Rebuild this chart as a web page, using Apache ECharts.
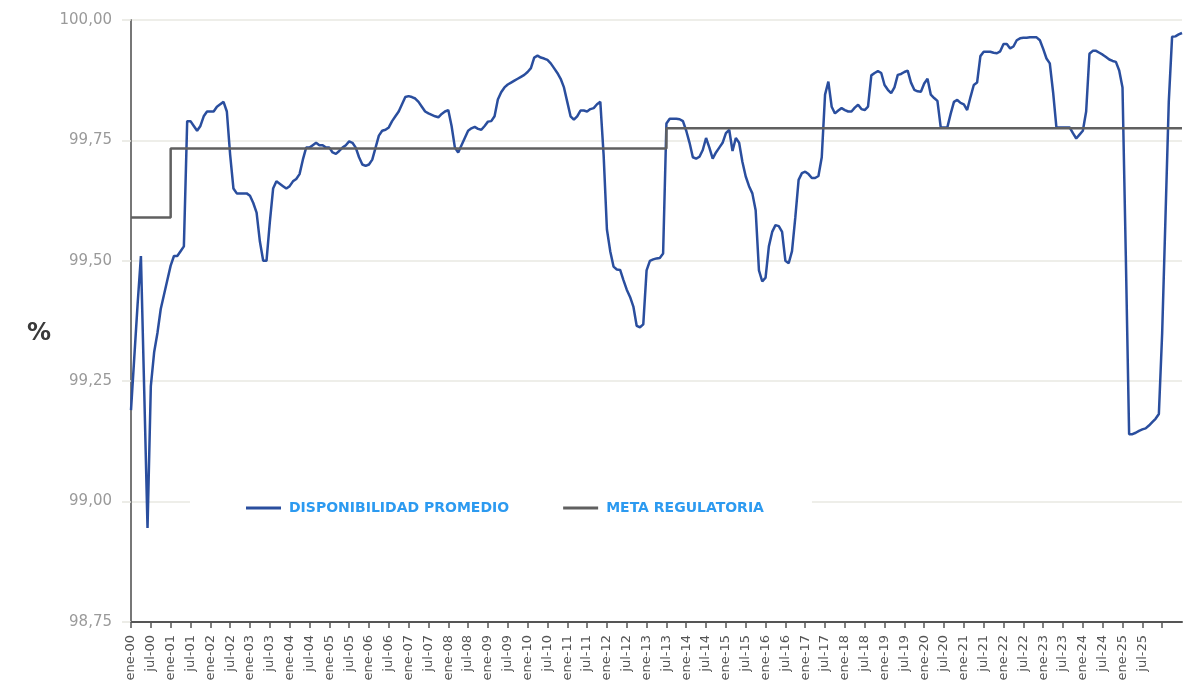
<!DOCTYPE html>
<html>
<head>
<meta charset="utf-8">
<title>Disponibilidad promedio</title>
<script src="https://cdn.jsdelivr.net/npm/echarts@6/dist/echarts.min.js"></script>
<style>
    html, body { margin: 0; padding: 0; background: #fff; }
    #chart { width: 1185px; height: 698px; }
</style>
</head>
<body>
<div id="chart"></div>
<script>
'use strict';

// meses en español, eje x mensual desde ene-00
var meses = ['ene', 'feb', 'mar', 'abr', 'may', 'jun', 'jul', 'ago', 'sep', 'oct', 'nov', 'dic'];
var anioInicio = 2000;

// disponibilidad promedio (%), un valor por mes, una fila por año
var disponibilidad = [
    99.19, 99.30, 99.41, 99.51, 99.23, 98.945, 99.24, 99.31, 99.35, 99.40, 99.43, 99.46,        // 2000
    99.49, 99.51, 99.51, 99.52, 99.53, 99.79, 99.79, 99.78, 99.77, 99.78, 99.80, 99.81,         // 2001
    99.81, 99.81, 99.82, 99.825, 99.83, 99.81, 99.72, 99.65, 99.64, 99.64, 99.64, 99.64,        // 2002
    99.635, 99.62, 99.60, 99.54, 99.50, 99.50, 99.58, 99.65, 99.665, 99.66, 99.655, 99.65,     // 2003
    99.655, 99.665, 99.67, 99.68, 99.71, 99.735, 99.735, 99.74, 99.745, 99.74, 99.74, 99.735,  // 2004
    99.735, 99.725, 99.722, 99.728, 99.735, 99.74, 99.748, 99.745, 99.735, 99.715, 99.70, 99.697, // 2005
    99.70, 99.71, 99.735, 99.76, 99.77, 99.772, 99.777, 99.79, 99.80, 99.81, 99.825, 99.84,    // 2006
    99.842, 99.84, 99.837, 99.83, 99.82, 99.81, 99.806, 99.803, 99.80, 99.798, 99.805, 99.81,  // 2007
    99.813, 99.78, 99.735, 99.725, 99.74, 99.755, 99.77, 99.775, 99.778, 99.774, 99.772, 99.78, // 2008
    99.789, 99.79, 99.80, 99.835, 99.85, 99.86, 99.866, 99.87, 99.874, 99.878, 99.882, 99.886, // 2009
    99.892, 99.90, 99.922, 99.926, 99.922, 99.92, 99.917, 99.91, 99.90, 99.89, 99.878, 99.86,  // 2010
    99.83, 99.80, 99.793, 99.80, 99.812, 99.812, 99.81, 99.815, 99.817, 99.825, 99.83, 99.72,  // 2011
    99.565, 99.52, 99.488, 99.482, 99.481, 99.46, 99.44, 99.425, 99.405, 99.365, 99.362, 99.368, // 2012
    99.48, 99.50, 99.503, 99.505, 99.506, 99.515, 99.785, 99.795, 99.795, 99.795, 99.794, 99.79, // 2013
    99.77, 99.745, 99.715, 99.712, 99.716, 99.73, 99.755, 99.735, 99.712, 99.725, 99.735, 99.745, // 2014
    99.765, 99.772, 99.728, 99.755, 99.745, 99.705, 99.675, 99.655, 99.64, 99.605, 99.48, 99.457, // 2015
    99.465, 99.53, 99.56, 99.574, 99.572, 99.56, 99.50, 99.495, 99.52, 99.59, 99.668, 99.682,  // 2016
    99.685, 99.68, 99.672, 99.672, 99.676, 99.715, 99.845, 99.872, 99.82, 99.806, 99.812, 99.817, // 2017
    99.813, 99.81, 99.81, 99.818, 99.824, 99.815, 99.813, 99.82, 99.885, 99.89, 99.894, 99.89, // 2018
    99.865, 99.855, 99.848, 99.86, 99.886, 99.888, 99.892, 99.895, 99.87, 99.855, 99.852, 99.851, // 2019
    99.868, 99.878, 99.845, 99.838, 99.832, 99.777, 99.777, 99.777, 99.805, 99.83, 99.834, 99.828, // 2020
    99.825, 99.813, 99.84, 99.865, 99.87, 99.925, 99.934, 99.934, 99.934, 99.932, 99.931, 99.935, // 2021
    99.95, 99.95, 99.941, 99.945, 99.958, 99.962, 99.963, 99.963, 99.964, 99.964, 99.964, 99.958, // 2022
    99.94, 99.92, 99.91, 99.85, 99.777, 99.777, 99.777, 99.777, 99.777, 99.765, 99.754, 99.762, // 2023
    99.77, 99.81, 99.93, 99.936, 99.936, 99.932, 99.928, 99.923, 99.918, 99.915, 99.913, 99.895, // 2024
    99.86, 99.51, 99.14, 99.14, 99.143, 99.147, 99.15, 99.152, 99.158, 99.165, 99.172, 99.182,  // 2025
    99.35, 99.59, 99.83, 99.965, 99.966, 99.97, 99.973                                          // 2026
];

// meta regulatoria: valor vigente desde cada mes
var metaDesde = ['ene-00', 'ene-01', 'jul-13'];
var metaValor = [99.59, 99.733, 99.775];

// etiquetas del eje y
var ejeYMin = 98.75;
var ejeYMax = 100;
var ejeYPaso = 0.25;

var categorias = [];
for (var i = 0; i < disponibilidad.length; i++) {
    var anio = anioInicio + Math.floor(i / 12);
    categorias.push(meses[i % 12] + '-' + String(anio).slice(2));
}

var meta = [];
var tramo = 0;
for (var j = 0; j < categorias.length; j++) {
    if (tramo + 1 < metaDesde.length && categorias[j] === metaDesde[tramo + 1]) {
        tramo++;
    }
    meta.push(metaValor[tramo]);
}

// ultimo mes con etiqueta / con marca en el eje x
var ultimaEtiqueta = categorias.indexOf('jul-25');
var ultimaMarca = categorias.indexOf('ene-26');

var myChart = echarts.init(document.getElementById('chart'));

var option = {
    animation: false,
    backgroundColor: '#ffffff',
    grid: {
        left: 131,
        right: 3,
        top: 20,
        bottom: 76
    },
    graphic: [{
        type: 'text',
        left: 27,
        top: 322,
        style: {
            text: '%',
            font: 'bold 24px "DejaVu Sans"',
            fill: '#3a3a3a'
        }
    }],
    legend: {
        left: 190,
        top: 493,
        padding: [8, 48, 8, 56],
        backgroundColor: '#ffffff',
        itemWidth: 35,
        itemHeight: 3,
        itemGap: 54,
        icon: 'rect',
        textStyle: {
            color: '#2c9af0',
            fontWeight: 'bold',
            fontSize: 14,
            fontFamily: 'DejaVu Sans',
            padding: [0, 0, 0, 3]
        },
        data: ['DISPONIBILIDAD PROMEDIO', 'META REGULATORIA']
    },
    xAxis: {
        type: 'category',
        data: categorias,
        boundaryGap: false,
        axisLine: {
            lineStyle: { color: '#555', width: 2 }
        },
        axisTick: {
            interval: function(idx) {
                return idx % 6 === 0 && idx <= ultimaMarca;
            },
            length: 6,
            lineStyle: { color: '#555', width: 1.5 }
        },
        axisLabel: {
            interval: function(idx) {
                return idx % 6 === 0 && idx <= ultimaEtiqueta;
            },
            rotate: 90,
            margin: 13,
            color: '#555',
            fontSize: 13,
            fontFamily: 'DejaVu Sans'
        },
        splitLine: { show: false }
    },
    yAxis: {
        type: 'value',
        min: ejeYMin,
        max: ejeYMax,
        interval: ejeYPaso,
        axisLine: {
            show: true,
            lineStyle: { color: '#777', width: 2 }
        },
        axisTick: {
            show: true,
            length: 9,
            lineStyle: { color: '#e6e6e0', width: 1.5 }
        },
        axisLabel: {
            margin: 19,
            color: '#9a9a9a',
            fontSize: 15,
            fontFamily: 'DejaVu Sans',
            formatter: function(v) {
                return v.toFixed(2).replace('.', ',');
            }
        },
        splitLine: {
            lineStyle: { color: '#e8e8e2', width: 1.5 }
        }
    },
    series: [{
        name: 'DISPONIBILIDAD PROMEDIO',
        type: 'line',
        data: disponibilidad,
        showSymbol: false,
        symbol: 'none',
        lineStyle: { color: '#2a4e9e', width: 2.5 },
        itemStyle: { color: '#2a4e9e' }
    }, {
        name: 'META REGULATORIA',
        type: 'line',
        data: meta,
        step: 'end',
        showSymbol: false,
        symbol: 'none',
        lineStyle: { color: '#606060', width: 2.5 },
        itemStyle: { color: '#606060' }
    }]
};

myChart.setOption(option);
</script>
</body>
</html>
